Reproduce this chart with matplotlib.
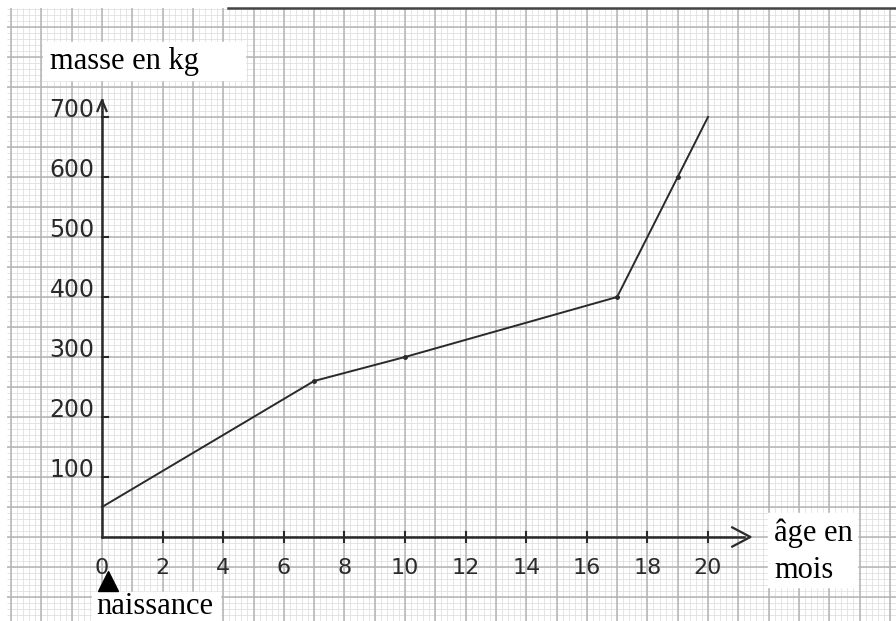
import matplotlib.pyplot as plt
import numpy as np

# data
age = [0, 7, 10, 17, 19, 20]          # mois
masse = [50, 260, 300, 400, 600, 700]  # kg
x_ticks = [0, 2, 4, 6, 8, 10, 12, 14, 16, 18, 20]
y_ticks = [100, 200, 300, 400, 500, 600, 700]

# pixel scale of the scan: 1 month = 30.3 px, 100 kg = 60 px, origin at (102, 537)
px_x = 30.3
px_y = 0.6
x0, y0 = 102, 537
W, H = 896, 621

fig = plt.figure(figsize=(W / 100, H / 100), dpi=100)
ax = fig.add_axes([0, 0, 1, 1])
xmin, xmax = -x0 / px_x, (W - x0) / px_x
ymin, ymax = (y0 - H) / px_y, y0 / px_y
ax.set_xlim(xmin, xmax)
ax.set_ylim(ymin, ymax)
ax.axis('off')

# graph paper
gx0 = (7 - x0) / px_x
gy1 = (y0 - 8) / px_y
xs_minor = np.arange(-3.0, xmax + 0.2, 0.2)
ys_minor = np.arange(-140, gy1, 10)
ax.vlines(xs_minor[xs_minor > gx0], ymin, gy1, color='#e0e0e0', lw=0.6, zorder=0)
ax.hlines(ys_minor, gx0, xmax, color='#e0e0e0', lw=0.6, zorder=0)
xs_major = np.arange(-3, xmax + 1, 1)
ys_major = np.arange(-100, gy1, 50)
ax.vlines(xs_major, ymin, gy1, color='#b4b4b4', lw=1.1, zorder=1)
ax.hlines(ys_major, gx0, xmax, color='#b4b4b4', lw=1.1, zorder=1)
ax.plot([(228 - x0) / px_x, xmax], [gy1, gy1], color='#444444', lw=1.8, zorder=2)

ink = '#2a2a2a'
# axes drawn by hand
ax.plot([0, 21.2], [0, 0], color=ink, lw=1.8, zorder=3)
ax.plot([0, 0], [0, 728], color=ink, lw=1.8, zorder=3)
ax.plot([20.8, 21.4, 20.8], [16, 0, -16], color=ink, lw=1.6, zorder=3)
ax.plot([-0.15, 0, 0.15], [710, 728, 710], color=ink, lw=1.6, zorder=3)

for t in x_ticks[1:]:
    ax.plot([t, t], [-8, 8], color=ink, lw=1.5, zorder=3)
for t in x_ticks:
    ax.text(t, -52, str(t), ha='center', va='center', fontsize=16, color=ink, zorder=4)
for t in y_ticks:
    ax.plot([0, 0.2], [t, t], color=ink, lw=1.5, zorder=3)
    ax.text(-0.25, t + 12, str(t), ha='right', va='center', fontsize=17, color=ink, zorder=4)

# courbe
ax.plot(age, masse, color=ink, lw=1.4, zorder=5)
ax.plot(age[1:5], masse[1:5], 'o', color=ink, ms=2.5, zorder=5)

# labels on white patches
serif = 'Liberation Serif'
ax.fill_between([(43 - x0) / px_x, (245 - x0) / px_x], (y0 - 80) / px_y, (y0 - 42) / px_y,
                color='white', zorder=6)
ax.text((50 - x0) / px_x, (y0 - 62) / px_y, 'masse en kg', ha='left', va='center',
        fontsize=22, family=serif, color='black', zorder=7)

ax.fill_between([(92 - x0) / px_x, (220 - x0) / px_x], ymin, (y0 - 592) / px_y,
                color='white', zorder=6)
ax.text((96 - x0) / px_x, (y0 - 607) / px_y, 'naissance', ha='left', va='center',
        fontsize=22, family=serif, color='black', zorder=7)
ax.plot([(108 - x0) / px_x], [(y0 - 581) / px_y], '^', color='black', ms=14, zorder=7)

ax.fill_between([(768 - x0) / px_x, (857 - x0) / px_x], (y0 - 587) / px_y, (y0 - 513) / px_y,
                color='white', zorder=6)
ax.text((774 - x0) / px_x, (y0 - 533) / px_y, 'âge en', ha='left', va='center',
        fontsize=22, family=serif, color='black', zorder=7)
ax.text((774 - x0) / px_x, (y0 - 570) / px_y, 'mois', ha='left', va='center',
        fontsize=22, family=serif, color='black', zorder=7)

fig.savefig('out.png', dpi=100)
